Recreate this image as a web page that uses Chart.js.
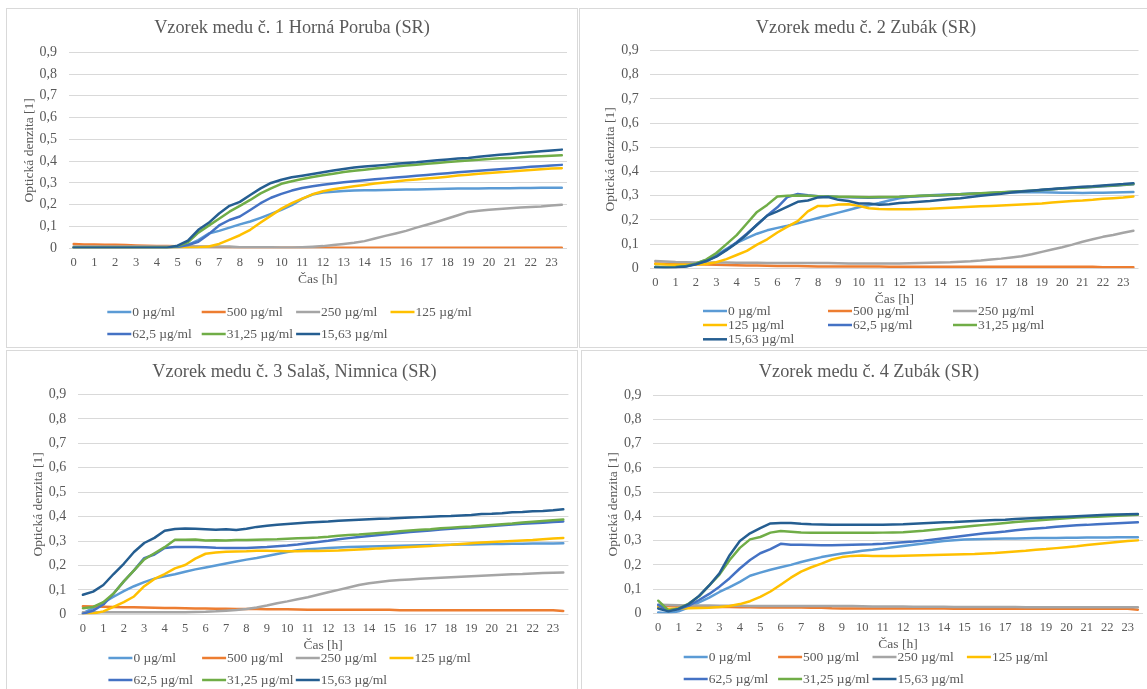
<!DOCTYPE html>
<html lang="sk">
<head>
<meta charset="utf-8">
<title>Optická denzita – vzorky medu</title>
<script src="https://cdn.jsdelivr.net/npm/chart.js@4/dist/chart.umd.min.js"></script>
<style>
  html, body { margin: 0; padding: 0; background: #ffffff; }
  body { width: 1147px; height: 689px; position: relative; overflow: hidden; }
  .panel { position: absolute; box-sizing: border-box; border: 1px solid #d9d9d9; background: #ffffff; overflow: hidden; }
  .panel canvas { display: block; }
</style>
</head>
<body>
<div class="panel" style="left:6px;top:8px;width:572px;height:340px"><canvas id="c1" width="570" height="338"></canvas></div>
<div class="panel" style="left:579px;top:8px;width:576px;height:340px"><canvas id="c2" width="572" height="338"></canvas></div>
<div class="panel" style="left:6px;top:350px;width:572px;height:345px"><canvas id="c3" width="575" height="343"></canvas></div>
<div class="panel" style="left:581px;top:350px;width:576px;height:345px"><canvas id="c4" width="574" height="343"></canvas></div>
<script>
// Measurement times [h]
const times = [0, 0.5, 1, 1.5, 2, 2.5, 3, 3.5, 4, 4.5, 5, 5.5, 6, 6.5, 7, 7.5, 8, 8.5, 9, 9.5,
  10, 10.5, 11, 11.5, 12, 12.5, 13, 13.5, 14, 14.5, 15, 15.5, 16, 16.5, 17, 17.5, 18, 18.5, 19, 19.5,
  20, 20.5, 21, 21.5, 22, 22.5, 23, 23.5];

// Hour labels shown under the axis (half-hour readings stay unlabelled)
const hourTicks = ['0', '', '1', '', '2', '', '3', '', '4', '', '5', '', '6', '', '7', '', '8', '', '9', '',
  '10', '', '11', '', '12', '', '13', '', '14', '', '15', '', '16', '', '17', '', '18', '', '19', '',
  '20', '', '21', '', '22', '', '23', ''];

const yTickLabels = ['0', '0,1', '0,2', '0,3', '0,4', '0,5', '0,6', '0,7', '0,8', '0,9'];

const concLabels = ['0 µg/ml', '500 µg/ml', '250 µg/ml', '125 µg/ml', '62,5 µg/ml', '31,25 µg/ml', '15,63 µg/ml'];

const titles = [
  'Vzorek medu č. 1 Horná Poruba (SR)',
  'Vzorek medu č. 2 Zubák (SR)',
  'Vzorek medu č. 3 Salaš, Nimnica (SR)',
  'Vzorek medu č. 4 Zubák (SR)'
];

// ---- Vzorek 1: Horná Poruba ----
const vz1_0 = [0.005, 0.005, 0.005, 0.005, 0.005, 0.005, 0.005, 0.005, 0.005, 0.004, 0.008, 0.016, 0.038, 0.068, 0.08, 0.095, 0.11, 0.123, 0.14, 0.158,
  0.177, 0.198, 0.227, 0.247, 0.256, 0.26, 0.263, 0.265, 0.266, 0.267, 0.268, 0.269, 0.27, 0.27, 0.271, 0.272, 0.273, 0.274, 0.275, 0.275,
  0.276, 0.276, 0.276, 0.277, 0.277, 0.278, 0.278, 0.278];
const vz1_500 = [0.02, 0.018, 0.017, 0.016, 0.016, 0.015, 0.013, 0.012, 0.01, 0.01, 0.009, 0.008, 0.007, 0.006, 0.005, 0.004, 0.003, 0.003, 0.003, 0.003,
  0.003, 0.003, 0.003, 0.003, 0.003, 0.003, 0.003, 0.003, 0.003, 0.003, 0.003, 0.002, 0.002, 0.002, 0.002, 0.002, 0.002, 0.002, 0.002, 0.002,
  0.002, 0.002, 0.002, 0.002, 0.002, 0.002, 0.002, 0.002];
const vz1_250 = [0.008, 0.008, 0.008, 0.008, 0.008, 0.008, 0.008, 0.008, 0.008, 0.008, 0.008, 0.008, 0.008, 0.008, 0.008, 0.008, 0.005, 0.005, 0.005, 0.005,
  0.004, 0.004, 0.005, 0.007, 0.01, 0.015, 0.02, 0.025, 0.033, 0.045, 0.057, 0.068, 0.08, 0.095, 0.108, 0.122, 0.137, 0.152, 0.167, 0.172,
  0.177, 0.18, 0.184, 0.187, 0.19, 0.192, 0.196, 0.2];
const vz1_125 = [0.003, 0.003, 0.003, 0.003, 0.003, 0.003, 0.003, 0.003, 0.003, 0.003, 0.003, 0.003, 0.004, 0.008, 0.02, 0.04, 0.06, 0.085, 0.118, 0.15,
  0.182, 0.207, 0.228, 0.248, 0.262, 0.271, 0.278, 0.285, 0.291, 0.297, 0.302, 0.307, 0.312, 0.316, 0.32, 0.324, 0.329, 0.334, 0.338, 0.342,
  0.346, 0.349, 0.352, 0.356, 0.36, 0.363, 0.366, 0.368];
const vz1_62 = [0.003, 0.003, 0.003, 0.003, 0.003, 0.003, 0.003, 0.003, 0.003, 0.003, 0.006, 0.015, 0.03, 0.065, 0.105, 0.13, 0.146, 0.176, 0.207, 0.232,
  0.25, 0.265, 0.277, 0.285, 0.292, 0.298, 0.303, 0.308, 0.312, 0.317, 0.321, 0.325, 0.329, 0.333, 0.337, 0.341, 0.345, 0.349, 0.353, 0.356,
  0.359, 0.363, 0.366, 0.37, 0.374, 0.377, 0.38, 0.383];
const vz1_31 = [0.003, 0.003, 0.003, 0.003, 0.003, 0.003, 0.003, 0.003, 0.003, 0.003, 0.01, 0.027, 0.072, 0.104, 0.136, 0.168, 0.195, 0.222, 0.252, 0.275,
  0.296, 0.308, 0.318, 0.327, 0.335, 0.342, 0.35, 0.356, 0.361, 0.366, 0.371, 0.376, 0.38, 0.384, 0.388, 0.392, 0.396, 0.4, 0.403, 0.406,
  0.41, 0.413, 0.415, 0.418, 0.421, 0.423, 0.425, 0.427];
const vz1_15 = [0.003, 0.003, 0.003, 0.003, 0.003, 0.003, 0.003, 0.003, 0.003, 0.003, 0.012, 0.035, 0.085, 0.117, 0.16, 0.195, 0.213, 0.245, 0.275, 0.3,
  0.315, 0.326, 0.333, 0.341, 0.349, 0.357, 0.364, 0.371, 0.375, 0.379, 0.383, 0.388, 0.392, 0.395, 0.4, 0.404, 0.408, 0.412, 0.415, 0.42,
  0.425, 0.429, 0.433, 0.437, 0.441, 0.445, 0.449, 0.453];

// ---- Vzorek 2: Zubák ----
const vz2_0 = [0.005, 0.005, 0.005, 0.01, 0.02, 0.035, 0.055, 0.08, 0.105, 0.125, 0.143, 0.157, 0.167, 0.176, 0.186, 0.197, 0.208, 0.219, 0.23, 0.241,
  0.252, 0.261, 0.27, 0.28, 0.289, 0.296, 0.3, 0.302, 0.304, 0.306, 0.307, 0.309, 0.31, 0.311, 0.312, 0.313, 0.314, 0.314, 0.314, 0.313,
  0.312, 0.312, 0.311, 0.312, 0.312, 0.313, 0.314, 0.315];
const vz2_500 = [0.02, 0.019, 0.018, 0.017, 0.017, 0.016, 0.015, 0.014, 0.013, 0.012, 0.012, 0.011, 0.01, 0.01, 0.009, 0.008, 0.007, 0.007, 0.007, 0.007,
  0.007, 0.007, 0.007, 0.006, 0.006, 0.006, 0.006, 0.006, 0.006, 0.006, 0.006, 0.006, 0.006, 0.006, 0.006, 0.006, 0.006, 0.006, 0.006, 0.006,
  0.006, 0.006, 0.006, 0.006, 0.004, 0.004, 0.004, 0.004];
const vz2_250 = [0.03, 0.028, 0.026, 0.025, 0.024, 0.024, 0.024, 0.024, 0.023, 0.023, 0.023, 0.022, 0.022, 0.022, 0.022, 0.022, 0.022, 0.022, 0.021, 0.02,
  0.02, 0.02, 0.02, 0.02, 0.02, 0.021, 0.022, 0.023, 0.024, 0.025, 0.027, 0.029, 0.032, 0.036, 0.04, 0.045, 0.05, 0.058, 0.068, 0.078,
  0.087, 0.098, 0.11, 0.12, 0.13, 0.138, 0.147, 0.155];
const vz2_125 = [0.018, 0.016, 0.015, 0.015, 0.016, 0.018, 0.025, 0.038, 0.055, 0.072, 0.098, 0.12, 0.148, 0.172, 0.195, 0.235, 0.258, 0.258, 0.264, 0.265,
  0.258, 0.248, 0.245, 0.244, 0.244, 0.244, 0.245, 0.246, 0.248, 0.25, 0.252, 0.254, 0.256, 0.258, 0.26, 0.262, 0.264, 0.266, 0.268, 0.272,
  0.275, 0.278, 0.28, 0.283, 0.287, 0.29, 0.293, 0.297];
const vz2_62 = [0.005, 0.003, 0.004, 0.008, 0.018, 0.03, 0.05, 0.077, 0.108, 0.143, 0.18, 0.218, 0.252, 0.295, 0.307, 0.302, 0.298, 0.297, 0.295, 0.294,
  0.293, 0.292, 0.293, 0.294, 0.295, 0.297, 0.298, 0.3, 0.301, 0.303, 0.305, 0.307, 0.309, 0.311, 0.313, 0.316, 0.318, 0.321, 0.324, 0.327,
  0.33, 0.332, 0.334, 0.336, 0.339, 0.341, 0.344, 0.347];
const vz2_31 = [0.005, 0.003, 0.005, 0.01, 0.02, 0.036, 0.063, 0.1, 0.137, 0.185, 0.233, 0.262, 0.297, 0.3, 0.301, 0.3, 0.298, 0.297, 0.296, 0.296,
  0.295, 0.294, 0.295, 0.295, 0.296, 0.298, 0.3, 0.301, 0.302, 0.304, 0.306, 0.308, 0.31, 0.312, 0.314, 0.316, 0.318, 0.321, 0.324, 0.327,
  0.33, 0.332, 0.334, 0.337, 0.34, 0.342, 0.345, 0.348];
const vz2_15 = [0.003, 0.002, 0.003, 0.007, 0.017, 0.03, 0.048, 0.075, 0.105, 0.14, 0.18, 0.218, 0.235, 0.255, 0.275, 0.28, 0.293, 0.295, 0.283, 0.278,
  0.268, 0.268, 0.263, 0.265, 0.27, 0.272, 0.275, 0.278, 0.282, 0.286, 0.29, 0.295, 0.3, 0.304, 0.308, 0.313, 0.317, 0.321, 0.325, 0.328,
  0.331, 0.334, 0.337, 0.339, 0.342, 0.345, 0.348, 0.352];

// ---- Vzorek 3: Salaš, Nimnica ----
const vz3_0 = [0.005, 0.025, 0.048, 0.072, 0.095, 0.115, 0.132, 0.146, 0.156, 0.164, 0.174, 0.184, 0.192, 0.2, 0.208, 0.216, 0.224, 0.231, 0.239, 0.247,
  0.255, 0.262, 0.266, 0.269, 0.272, 0.274, 0.276, 0.277, 0.278, 0.279, 0.28, 0.281, 0.282, 0.283, 0.284, 0.284, 0.285, 0.286, 0.286, 0.287,
  0.288, 0.288, 0.289, 0.289, 0.29, 0.29, 0.29, 0.291];
const vz3_500 = [0.033, 0.032, 0.031, 0.03, 0.029, 0.029, 0.028, 0.027, 0.026, 0.026, 0.025, 0.024, 0.024, 0.023, 0.023, 0.022, 0.022, 0.022, 0.021, 0.021,
  0.021, 0.02, 0.019, 0.019, 0.019, 0.019, 0.019, 0.019, 0.019, 0.019, 0.019, 0.017, 0.017, 0.017, 0.017, 0.017, 0.017, 0.017, 0.017, 0.017,
  0.017, 0.017, 0.017, 0.017, 0.017, 0.017, 0.017, 0.014];
const vz3_250 = [0.008, 0.008, 0.008, 0.008, 0.008, 0.008, 0.008, 0.008, 0.008, 0.008, 0.008, 0.009, 0.01, 0.012, 0.015, 0.018, 0.022, 0.028, 0.036, 0.045,
  0.053, 0.062, 0.07, 0.08, 0.09, 0.1, 0.11, 0.12, 0.127, 0.132, 0.137, 0.14, 0.143, 0.146, 0.148, 0.15, 0.152, 0.154, 0.156, 0.158,
  0.16, 0.162, 0.164, 0.165, 0.167, 0.169, 0.17, 0.171];
const vz3_125 = [0, 0.003, 0.012, 0.03, 0.05, 0.073, 0.115, 0.145, 0.165, 0.188, 0.202, 0.228, 0.248, 0.253, 0.256, 0.257, 0.258, 0.26, 0.26, 0.259,
  0.258, 0.258, 0.259, 0.259, 0.26, 0.261, 0.263, 0.265, 0.267, 0.27, 0.272, 0.274, 0.276, 0.278, 0.28, 0.283, 0.285, 0.288, 0.291, 0.294,
  0.296, 0.298, 0.3, 0.302, 0.304, 0.307, 0.31, 0.313];
const vz3_62 = [0.002, 0.015, 0.04, 0.085, 0.135, 0.18, 0.23, 0.245, 0.272, 0.276, 0.276, 0.276, 0.275, 0.273, 0.272, 0.272, 0.272, 0.274, 0.276, 0.279,
  0.282, 0.286, 0.291, 0.296, 0.301, 0.307, 0.312, 0.317, 0.321, 0.325, 0.329, 0.333, 0.337, 0.34, 0.343, 0.347, 0.35, 0.353, 0.356, 0.359,
  0.362, 0.365, 0.368, 0.371, 0.373, 0.375, 0.378, 0.38];
const vz3_31 = [0.025, 0.03, 0.05, 0.085, 0.135, 0.18, 0.225, 0.25, 0.275, 0.305, 0.305, 0.306, 0.302, 0.303, 0.302, 0.304, 0.304, 0.305, 0.306, 0.307,
  0.309, 0.311, 0.313, 0.315, 0.318, 0.322, 0.325, 0.327, 0.33, 0.333, 0.336, 0.34, 0.343, 0.346, 0.348, 0.352, 0.355, 0.358, 0.36, 0.363,
  0.366, 0.369, 0.372, 0.376, 0.379, 0.382, 0.385, 0.388];
const vz3_15 = [0.08, 0.093, 0.12, 0.165, 0.207, 0.255, 0.292, 0.313, 0.342, 0.349, 0.351, 0.35, 0.348, 0.346, 0.348, 0.345, 0.35, 0.358, 0.363, 0.367,
  0.37, 0.373, 0.376, 0.378, 0.38, 0.383, 0.385, 0.387, 0.389, 0.391, 0.392, 0.394, 0.396, 0.398, 0.4, 0.402, 0.403, 0.405, 0.407, 0.411,
  0.412, 0.414, 0.418, 0.419, 0.422, 0.423, 0.426, 0.43];

// ---- Vzorek 4: Zubák ----
const vz4_0 = [0.003, 0, 0.008, 0.025, 0.045, 0.065, 0.088, 0.108, 0.13, 0.155, 0.168, 0.18, 0.19, 0.2, 0.212, 0.222, 0.232, 0.24, 0.247, 0.252,
  0.258, 0.262, 0.267, 0.273, 0.278, 0.283, 0.288, 0.293, 0.298, 0.302, 0.305, 0.306, 0.307, 0.308, 0.309, 0.309, 0.31, 0.311, 0.311, 0.311,
  0.312, 0.312, 0.313, 0.313, 0.313, 0.314, 0.314, 0.314];
const vz4_500 = [0.03, 0.03, 0.028, 0.027, 0.027, 0.026, 0.026, 0.026, 0.025, 0.025, 0.024, 0.024, 0.024, 0.024, 0.024, 0.023, 0.023, 0.021, 0.02, 0.02,
  0.02, 0.02, 0.02, 0.02, 0.02, 0.02, 0.02, 0.02, 0.02, 0.019, 0.019, 0.019, 0.019, 0.019, 0.019, 0.019, 0.019, 0.019, 0.019, 0.019,
  0.019, 0.019, 0.019, 0.019, 0.019, 0.019, 0.019, 0.015];
const vz4_250 = [0.035, 0.034, 0.033, 0.032, 0.032, 0.032, 0.031, 0.031, 0.031, 0.03, 0.03, 0.03, 0.03, 0.03, 0.03, 0.03, 0.03, 0.03, 0.03, 0.03,
  0.029, 0.028, 0.028, 0.028, 0.028, 0.027, 0.027, 0.027, 0.027, 0.026, 0.026, 0.026, 0.026, 0.026, 0.026, 0.026, 0.025, 0.025, 0.025, 0.025,
  0.025, 0.025, 0.025, 0.025, 0.025, 0.025, 0.025, 0.025];
const vz4_125 = [0.025, 0.018, 0.02, 0.021, 0.022, 0.023, 0.026, 0.03, 0.038, 0.05, 0.068, 0.09, 0.118, 0.147, 0.172, 0.19, 0.205, 0.222, 0.232, 0.237,
  0.239, 0.237, 0.237, 0.237, 0.238, 0.239, 0.24, 0.241, 0.242, 0.243, 0.244, 0.245, 0.247, 0.249, 0.252, 0.255, 0.258, 0.262, 0.265, 0.269,
  0.273, 0.277, 0.282, 0.286, 0.29, 0.294, 0.298, 0.301];
const vz4_62 = [0.035, 0.012, 0.018, 0.032, 0.055, 0.08, 0.11, 0.145, 0.185, 0.22, 0.248, 0.265, 0.287, 0.283, 0.283, 0.282, 0.281, 0.281, 0.282, 0.283,
  0.284, 0.285, 0.287, 0.29, 0.293, 0.296, 0.3, 0.305, 0.31, 0.315, 0.32, 0.325, 0.33, 0.334, 0.338, 0.343, 0.347, 0.35, 0.353, 0.357,
  0.36, 0.363, 0.365, 0.368, 0.37, 0.372, 0.374, 0.376];
const vz4_31 = [0.052, 0.012, 0.02, 0.04, 0.07, 0.115, 0.16, 0.22, 0.27, 0.305, 0.315, 0.333, 0.34, 0.337, 0.334, 0.332, 0.332, 0.332, 0.332, 0.332,
  0.332, 0.332, 0.333, 0.334, 0.335, 0.338, 0.341, 0.345, 0.349, 0.353, 0.357, 0.361, 0.365, 0.369, 0.373, 0.377, 0.38, 0.383, 0.386, 0.389,
  0.392, 0.395, 0.397, 0.399, 0.401, 0.403, 0.405, 0.407];
const vz4_15 = [0.02, 0.008, 0.018, 0.038, 0.072, 0.115, 0.165, 0.24, 0.298, 0.33, 0.352, 0.371, 0.373, 0.373, 0.37, 0.368, 0.367, 0.366, 0.365, 0.365,
  0.365, 0.365, 0.366, 0.367, 0.368, 0.37, 0.372, 0.374, 0.376, 0.377, 0.379, 0.381, 0.383, 0.385, 0.386, 0.389, 0.391, 0.393, 0.395, 0.397,
  0.399, 0.401, 0.403, 0.405, 0.407, 0.408, 0.409, 0.41];

// Series colours (Office palette), in the order of concLabels
const seriesColors = ['#5B9BD5', '#ED7D31', '#A5A5A5', '#FFC000', '#4472C4', '#70AD47', '#255E91'];
const ink = '#595959';
const serif = '"Liberation Serif", "Times New Roman", "DejaVu Serif", serif';

// Legend laid out on a fixed column grid underneath the axis title
const gridLegend = {
  id: 'gridLegend',
  afterDraw(chart, args, opts) {
    const ctx = chart.ctx;
    ctx.save();
    ctx.font = opts.fontSize + 'px ' + serif;
    ctx.textBaseline = 'middle';
    ctx.textAlign = 'left';
    chart.data.datasets.forEach((ds, i) => {
      const col = i % opts.columns;
      const row = Math.floor(i / opts.columns);
      const x = opts.left + col * opts.colWidth;
      const y = opts.rows[row];
      ctx.strokeStyle = ds.borderColor;
      ctx.lineWidth = 2.5;
      ctx.lineCap = 'butt';
      ctx.beginPath();
      ctx.moveTo(x, y);
      ctx.lineTo(x + opts.swatch, y);
      ctx.stroke();
      ctx.fillStyle = ink;
      ctx.fillText(ds.label, x + opts.swatch + 1, y + 0.5);
    });
    ctx.restore();
  }
};

// side: equal left/right layout padding, so the title stays centred on the canvas
const panels = [
  { canvas: 'c1', title: titles[0], series: [vz1_0, vz1_500, vz1_250, vz1_125, vz1_62, vz1_31, vz1_15],
    side: 10, axisWidth: 51.5, padBottom: 58.7, titleTop: 8, titleBottom: 13.3, yTitlePad: 4.5,
    legend: { columns: 4, left: 100.3, colWidth: 94.4, rows: [303, 325], swatch: 24, fontSize: 13.5 } },
  { canvas: 'c2', title: titles[1], series: [vz2_0, vz2_500, vz2_250, vz2_125, vz2_62, vz2_31, vz2_15],
    side: 13.5, axisWidth: 56.7, padBottom: 38.7, titleTop: 8, titleBottom: 11.6, yTitlePad: 8.8,
    legend: { columns: 3, left: 123, colWidth: 125, rows: [302, 316, 330.3], swatch: 24, fontSize: 13.5 } },
  { canvas: 'c3', title: titles[2], series: [vz3_0, vz3_500, vz3_250, vz3_125, vz3_62, vz3_31, vz3_15],
    side: 13.6, axisWidth: 57.2, padBottom: 39.7, titleTop: 10, titleBottom: 11.6, yTitlePad: 10.1,
    legend: { columns: 4, left: 101.4, colWidth: 93.7, rows: [307, 329], swatch: 24, fontSize: 13.5 } },
  { canvas: 'c4', title: titles[3], series: [vz4_0, vz4_500, vz4_250, vz4_125, vz4_62, vz4_31, vz4_15],
    side: 13, axisWidth: 58.1, padBottom: 40.7, titleTop: 10, titleBottom: 12.3, yTitlePad: 10.2,
    legend: { columns: 4, left: 101.7, colWidth: 94.4, rows: [306, 328], swatch: 24, fontSize: 13.5 } }
];

function buildChart(p) {
  const n = p.series.length;
  return new Chart(document.getElementById(p.canvas), {
    type: 'line',
    data: {
      labels: times,
      datasets: p.series.map((values, i) => ({
        label: concLabels[i],
        data: values,
        borderColor: seriesColors[i],
        backgroundColor: seriesColors[i],
        borderWidth: 2.5,
        borderJoinStyle: 'round',
        borderCapStyle: 'round',
        pointRadius: 0,
        pointHoverRadius: 0,
        tension: 0,
        fill: false,
        // later concentrations are painted over earlier ones
        order: n - i
      }))
    },
    options: {
      responsive: false,
      animation: false,
      devicePixelRatio: 1,
      events: [],
      layout: { padding: { left: p.side, top: 0, right: p.side, bottom: p.padBottom } },
      plugins: {
        legend: { display: false },
        tooltip: { enabled: false },
        title: {
          display: true,
          text: p.title,
          color: ink,
          font: { family: serif, size: 18.3, weight: 'normal' },
          padding: { top: p.titleTop, bottom: p.titleBottom }
        },
        gridLegend: p.legend
      },
      scales: {
        x: {
          type: 'category',
          offset: true,
          grid: { display: false, drawTicks: false },
          border: { display: false },
          ticks: {
            autoSkip: false,
            maxRotation: 0,
            minRotation: 0,
            padding: 7,
            color: ink,
            font: { family: serif, size: 12.5 },
            callback: (value, index) => hourTicks[index]
          },
          title: {
            display: true,
            text: 'Čas [h]',
            color: ink,
            font: { family: serif, size: 13.5 },
            padding: { top: 0, bottom: 0.5 }
          },
          afterFit: (scale) => { scale.height = 40; }
        },
        y: {
          min: 0,
          max: 0.9,
          grid: { color: '#d9d9d9', lineWidth: 1, drawTicks: false },
          border: { display: false },
          ticks: {
            stepSize: 0.1,
            padding: 11.5,
            color: ink,
            font: { family: serif, size: 14 },
            callback: (value) => yTickLabels[Math.round(value * 10)]
          },
          title: {
            display: true,
            text: 'Optická denzita [1]',
            color: ink,
            font: { family: serif, size: 13.5 },
            padding: { top: p.yTitlePad, bottom: 0 }
          },
          afterFit: (scale) => { scale.width = p.axisWidth; }
        }
      }
    },
    plugins: [gridLegend]
  });
}

panels.forEach(buildChart);
</script>
</body>
</html>
